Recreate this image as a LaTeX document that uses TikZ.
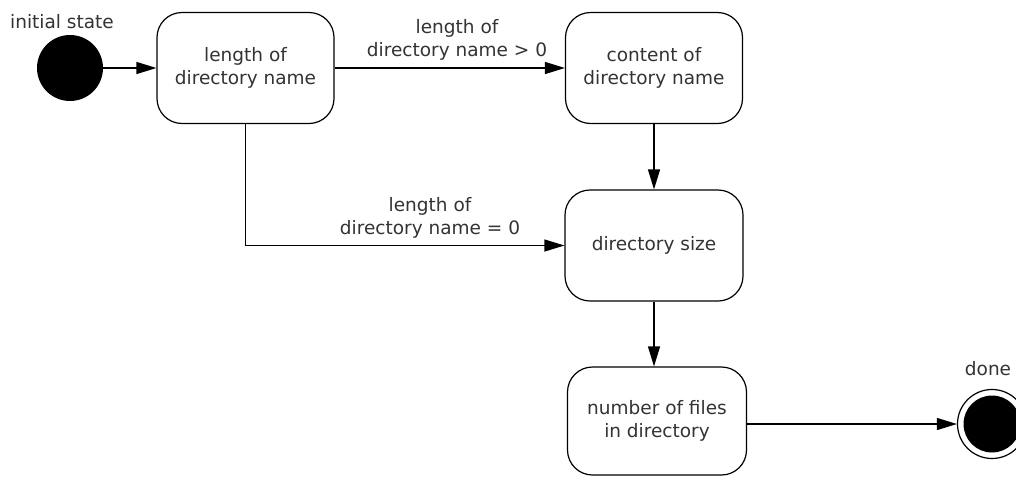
\documentclass[tikz,border=0pt]{standalone}
\usepackage{fontspec}
\setmainfont{DejaVu Sans}
\usetikzlibrary{arrows.meta}
\definecolor{txt}{HTML}{333333}
\tikzset{
  statebox/.style={draw=black, line width=1.2pt, rounded corners=25pt,
    minimum width=177pt, minimum height=111pt, align=center, text=txt,
    font=\fontsize{18.5}{23.5}\selectfont, inner sep=0pt},
  lbl/.style={align=center, text=txt, font=\fontsize{18.5}{23.5}\selectfont, inner sep=0pt},
  flow/.style={draw=black, line width=1.2pt, -{Triangle[length=20pt,width=12pt]}},
}
\begin{document}
\begin{tikzpicture}[x=1pt,y=-1pt]
  \useasboundingbox (0,0) rectangle (1016,477);
  % initial and final pseudo-states
  \node[circle, fill=black, minimum size=66pt, inner sep=0pt] (init) at (70,68) {};
  \node[lbl] (initlbl) at (62,22) {initial state};
  \node[circle, draw=black, line width=1.2pt, fill=white, minimum size=69pt, inner sep=0pt] (done) at (992,424) {};
  \node[circle, fill=black, minimum size=57pt, inner sep=0pt] (donein) at (992,424) {};
  \node[lbl] (donelbl) at (988,369) {done};
  % states
  \node[statebox] (len) at (245.5,68) {length of\\directory name};
  \node[statebox] (content) at (654,68) {content of\\directory name};
  \node[statebox, minimum width=178pt] (size) at (654,245.5) {directory size};
  \node[statebox, minimum width=179pt, minimum height=108pt] (files) at (657,421) {number of files\\in directory};
  % transitions
  \draw[flow] (init.east) -- (len.west);
  \draw[flow] (len.east) -- (content.west);
  \node[lbl] (gt) at (457,40) {length of\\directory name > 0};
  \draw[flow] (content.south) -- (content.south |- size.north);
  \draw[flow] (len.south) |- (size.west);
  \node[lbl] (eq) at (430,218) {length of\\directory name = 0};
  \draw[flow] (size.south) -- (size.south |- files.north);
  \draw[flow] (files.east |- done.west) -- (done.west);
\end{tikzpicture}
\end{document}
